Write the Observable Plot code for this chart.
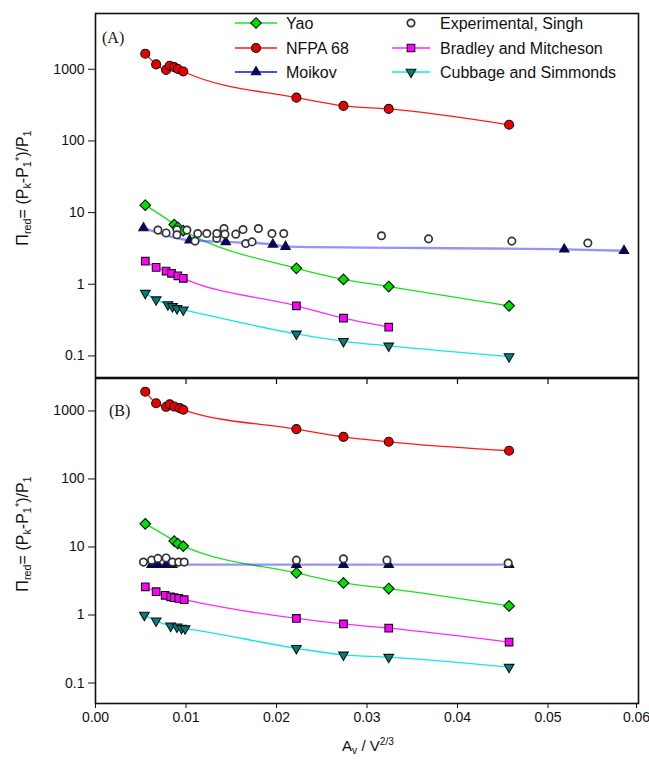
<!DOCTYPE html>
<html><head><meta charset="utf-8">
<script src="https://cdn.jsdelivr.net/npm/d3@7"></script>
<script src="https://cdn.jsdelivr.net/npm/@observablehq/plot@0.6"></script>
<style>
body{margin:0;background:#fff;}
#wrap{position:relative;width:649px;height:769px;overflow:hidden;font-family:"Liberation Sans",Arial,sans-serif;color:#111;}
.abs{position:absolute;white-space:nowrap;line-height:1;}
.abs sub,.abs sup{font-size:68%;line-height:0;}
.abs sub{vertical-align:-0.3em;}
.abs sup{vertical-align:0.5em;}
#panelA{position:absolute;left:0;top:0;}
#panelB{position:absolute;left:0;top:370px;}
#legend{position:absolute;left:0;top:0;}
</style></head><body>
<div id="wrap">
  <div id="panelA"></div>
  <div id="panelB"></div>
  <svg id="legend" width="649" height="100"></svg>
  <div class="abs" style="left:102px;top:30px;font-family:'Liberation Serif',serif;font-size:16px;">(A)</div>
  <div class="abs" style="left:109px;top:403px;font-family:'Liberation Serif',serif;font-size:16px;">(B)</div>
  <div class="abs" style="left:23px;top:188px;font-size:16px;transform:translate(-50%,-50%) rotate(-90deg);">&Pi;<sub>red</sub>= (P<sub>k</sub>-P<sub>1</sub><sup>*</sup>)/P<sub>1</sub></div>
  <div class="abs" style="left:23px;top:534px;font-size:16px;transform:translate(-50%,-50%) rotate(-90deg);">&Pi;<sub>red</sub>= (P<sub>k</sub>-P<sub>1</sub><sup>*</sup>)/P<sub>1</sub></div>
  <div class="abs" style="left:368px;top:745px;font-size:15px;transform:translate(-50%,-50%);">A<sub>v</sub> / V<sup>2/3</sup></div>
</div>
<script>
// ---------- tick labels ----------
const xTicks = [0, 0.01, 0.02, 0.03, 0.04, 0.05, 0.06];
const yTicks = [0.1, 1, 10, 100, 1000];
const seriesNames = ["Yao", "NFPA 68", "Moikov", "Experimental, Singh", "Bradley and Mitcheson", "Cubbage and Simmonds"];

// ---------- Panel (A) ----------
const yaoA_x = [0.0055, 0.0087, 0.0091, 0.0097, 0.0222, 0.0274, 0.0324, 0.0457];
const yaoA_y = [12.7, 6.8, 6.2, 5.6, 1.67, 1.17, 0.93, 0.50];
const nfpaA_x = [0.0055, 0.0067, 0.0078, 0.0082, 0.0087, 0.0091, 0.0097, 0.0222, 0.0274, 0.0324, 0.0457];
const nfpaA_y = [1650, 1170, 980, 1120, 1070, 1010, 930, 402, 308, 280, 168];
const moikovA_x = [0.0053, 0.0104, 0.0144, 0.0196, 0.0210, 0.0518, 0.0584];
const moikovA_y = [6.1, 4.1, 3.9, 3.6, 3.35, 3.07, 2.94];
const expA_x = [0.0069, 0.0078, 0.0090, 0.0090, 0.0101, 0.0110, 0.0113, 0.0123, 0.0134, 0.0134, 0.0142, 0.0143, 0.0155, 0.0163, 0.0166, 0.0173, 0.0180, 0.0195, 0.0208, 0.0316, 0.0368, 0.0460, 0.0544];
const expA_y = [5.7, 5.2, 5.8, 4.9, 5.7, 4.0, 5.1, 5.1, 4.4, 5.1, 6.0, 5.0, 5.0, 5.8, 3.7, 3.9, 6.0, 5.1, 5.1, 4.75, 4.3, 4.0, 3.76];
const bradleyA_x = [0.0055, 0.0067, 0.0078, 0.0084, 0.0091, 0.0097, 0.0222, 0.0274, 0.0324];
const bradleyA_y = [2.1, 1.72, 1.53, 1.42, 1.31, 1.21, 0.50, 0.336, 0.252];
const cubbageA_x = [0.0055, 0.0067, 0.0080, 0.0085, 0.0090, 0.0097, 0.0222, 0.0274, 0.0324, 0.0457];
const cubbageA_y = [0.75, 0.61, 0.52, 0.49, 0.46, 0.44, 0.203, 0.160, 0.138, 0.098];

// ---------- Panel (B) ----------
const yaoB_x = [0.0055, 0.0087, 0.0091, 0.0097, 0.0222, 0.0274, 0.0324, 0.0457];
const yaoB_y = [21.9, 12.2, 11.2, 10.3, 4.15, 2.96, 2.45, 1.36];
const nfpaB_x = [0.0055, 0.0067, 0.0078, 0.0082, 0.0087, 0.0093, 0.0097, 0.0222, 0.0274, 0.0324, 0.0457];
const nfpaB_y = [1920, 1300, 1150, 1250, 1160, 1100, 1040, 540, 416, 352, 260];
const moikovB_x = [0.0062, 0.0069, 0.0078, 0.0085, 0.0222, 0.0274, 0.0324, 0.0457];
const moikovB_y = [5.5, 5.5, 5.5, 5.5, 5.5, 5.5, 5.5, 5.5];
const expB_x = [0.0053, 0.0062, 0.0069, 0.0078, 0.0085, 0.0092, 0.0098, 0.0222, 0.0274, 0.0322, 0.0456];
const expB_y = [6.0, 6.4, 6.8, 6.9, 6.0, 6.0, 6.0, 6.4, 6.7, 6.4, 5.8];
const bradleyB_x = [0.0055, 0.0067, 0.0077, 0.0083, 0.0087, 0.0092, 0.0098, 0.0222, 0.0274, 0.0324, 0.0457];
const bradleyB_y = [2.6, 2.2, 1.95, 1.85, 1.8, 1.75, 1.68, 0.89, 0.74, 0.64, 0.40];
const cubbageB_x = [0.0054, 0.0067, 0.0083, 0.0090, 0.0095, 0.0099, 0.0222, 0.0274, 0.0324, 0.0457];
const cubbageB_y = [1.0, 0.82, 0.69, 0.67, 0.64, 0.63, 0.324, 0.259, 0.240, 0.171];

// ---------- styles ----------
const styles = {
  "Yao": {line: "#1ee01e", lineW: 1.3, symbol: "diamond2", d3sym: d3.symbolDiamond2, fill: "#00e000", r: 4.8, rotate: 0},
  "NFPA 68": {line: "#ff1a1a", lineW: 1.3, symbol: "circle", d3sym: d3.symbolCircle, fill: "#e60000", r: 4.5, rotate: 0},
  "Moikov": {line: "#2a2aff", lineW: 2.4, lineOpacity: 0.5, symbol: "triangle", d3sym: d3.symbolTriangle, fill: "#00008b", r: 3.5, rotate: 0},
  "Experimental, Singh": {line: null, symbol: "circle", d3sym: d3.symbolCircle, fill: "#fff", stroke: "#333", sw: 1.7, r: 3.7, rotate: 0},
  "Bradley and Mitcheson": {line: "#ff2aff", lineW: 1.3, symbol: "square", d3sym: d3.symbolSquare, fill: "#ff00ff", r: 4.3, rotate: 0},
  "Cubbage and Simmonds": {line: "#14e6e6", lineW: 1.3, symbol: "triangle", d3sym: d3.symbolTriangle, fill: "#008080", r: 3.6, rotate: 180}
};

function rows(xs, ys) { return xs.map((x, i) => ({x, y: ys[i]})); }

function panel(seriesData, opts) {
  const marks = [
    Plot.frame({stroke: "#111", strokeWidth: 1.6}),
    Plot.axisY(yTicks, {tickFormat: d => String(d), tickSize: 7, tickPadding: 4, fontSize: 14, label: null})
  ];
  if (opts.bottomAxis) {
    marks.push(Plot.axisX(xTicks.slice(0, -1), {tickFormat: d3.format(".2f"), tickSize: 5, tickPadding: 4, fontSize: 14, label: null}));
    marks.push(Plot.axisX(xTicks.slice(-1), {tickFormat: d3.format(".2f"), tickSize: 5, tickPadding: 4, fontSize: 14, label: null, dx: -2}));
    marks.push(Plot.tickX(xTicks.slice(1, -1), {x: d => d, insetBottom: opts.frameH - 6, stroke: "#111", strokeWidth: 1.2}));
  }
  for (const [name, data] of seriesData) {
    const s = styles[name];
    if (!s.line) continue;
    marks.push(Plot.line(data, {x: "x", y: "y", stroke: s.line, strokeWidth: s.lineW, strokeOpacity: s.lineOpacity ?? 1, curve: "monotone-x"}));
  }
  const order = ["Moikov", "Yao", "NFPA 68", "Bradley and Mitcheson", "Cubbage and Simmonds", "Experimental, Singh"];
  for (const name of order) {
    const entry = seriesData.find(d => d[0] === name);
    if (!entry) continue;
    const s = styles[name];
    marks.push(Plot.dot(entry[1], {x: "x", y: "y", symbol: s.symbol, r: s.r, fill: s.fill, stroke: s.stroke || "#111", strokeWidth: s.sw || 1.1, rotate: s.rotate}));
  }
  return Plot.plot({
    width: 649, height: opts.height,
    marginLeft: 95, marginRight: 11, marginTop: opts.mTop, marginBottom: opts.mBottom,
    x: {domain: [0, 0.06], axis: null},
    y: {type: "log", domain: opts.yDomain, axis: null},
    style: {fontFamily: "'Liberation Sans', Arial, sans-serif", color: "#111", background: "transparent", overflow: "visible"},
    marks
  });
}

const seriesA = [
  ["Yao", rows(yaoA_x, yaoA_y)],
  ["NFPA 68", rows(nfpaA_x, nfpaA_y)],
  ["Moikov", rows(moikovA_x, moikovA_y)],
  ["Experimental, Singh", rows(expA_x, expA_y)],
  ["Bradley and Mitcheson", rows(bradleyA_x, bradleyA_y)],
  ["Cubbage and Simmonds", rows(cubbageA_x, cubbageA_y)]
];
const seriesB = [
  ["Yao", rows(yaoB_x, yaoB_y)],
  ["NFPA 68", rows(nfpaB_x, nfpaB_y)],
  ["Moikov", rows(moikovB_x, moikovB_y)],
  ["Experimental, Singh", rows(expB_x, expB_y)],
  ["Bradley and Mitcheson", rows(bradleyB_x, bradleyB_y)],
  ["Cubbage and Simmonds", rows(cubbageB_x, cubbageB_y)]
];

document.getElementById("panelA").appendChild(panel(seriesA, {height: 380, mTop: 13, mBottom: 3, yDomain: [0.05, 6000], bottomAxis: false, frameH: 364}));
document.getElementById("panelB").appendChild(panel(seriesB, {height: 399, mTop: 8, mBottom: 66, yDomain: [0.05, 3000], bottomAxis: true, frameH: 325}));

// ---------- legend ----------
const lg = d3.select("#legend");
const colGeom = [{x1: 235, x2: 277, cx: 256, tx: 286}, {x1: 392, x2: 430, cx: 411, tx: 440}];
const rowY = [23, 48, 72];
seriesNames.forEach((name, i) => {
  const s = styles[name];
  const c = colGeom[Math.floor(i / 3)], y = rowY[i % 3];
  if (s.line) lg.append("line").attr("x1", c.x1).attr("x2", c.x2).attr("y1", y).attr("y2", y)
    .attr("stroke", name === "Moikov" ? "#1010ee" : s.line).attr("stroke-width", 1.6);
  lg.append("path").attr("d", d3.symbol(s.d3sym, Math.PI * s.r * s.r)())
    .attr("transform", `translate(${c.cx},${y}) rotate(${s.rotate})`)
    .attr("fill", s.fill).attr("stroke", s.stroke || "#111").attr("stroke-width", s.sw || 1.1);
  lg.append("text").attr("x", c.tx).attr("y", y).attr("dy", "0.36em").attr("font-size", 16)
    .attr("font-family", "'Liberation Sans', Arial, sans-serif").attr("fill", "#111").text(name);
});
</script>
</body></html>
